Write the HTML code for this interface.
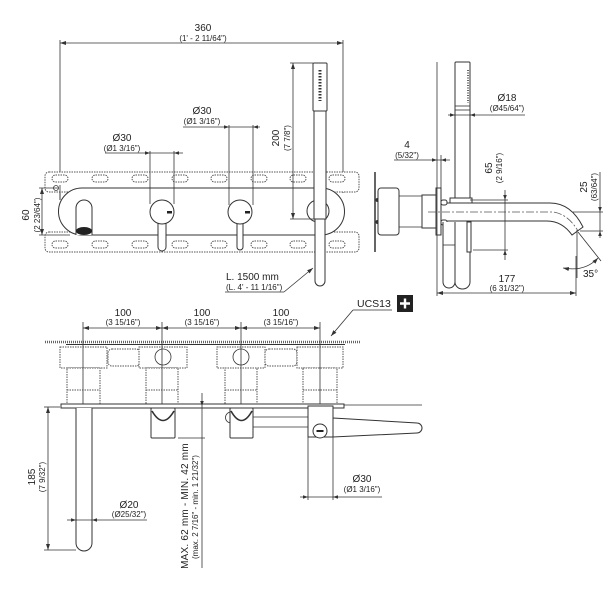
<!DOCTYPE html>
<html><head><meta charset="utf-8"><style>
html,body{margin:0;padding:0;background:#fff;}
svg{display:block;}
text{font-family:"Liberation Sans",Arial,sans-serif;fill:#222;}
.t{font-size:10px;}
.s{font-size:8px;}
.l{stroke:#333;stroke-width:0.8;fill:none;}
.b{stroke:#333;stroke-width:1;fill:#fff;}
.d{stroke:#555;stroke-width:1;fill:#fff;stroke-dasharray:1.5 1;}
</style></head><body>
<svg width="613" height="591" viewBox="0 0 613 591" xmlns="http://www.w3.org/2000/svg">
<defs>
<marker id="a" viewBox="0 0 6 4" refX="6" refY="2" markerWidth="6" markerHeight="4" orient="auto-start-reverse" markerUnits="userSpaceOnUse"><path d="M0,0 L6,2 L0,4 z" fill="#333"/></marker>
</defs>

<!-- ============ FRONT VIEW ============ -->
<!-- 360 -->
<line class="l" x1="60" y1="43" x2="343" y2="43" marker-start="url(#a)" marker-end="url(#a)"/>
<line class="l" x1="60" y1="40" x2="60" y2="200"/>
<line class="l" x1="343" y1="40" x2="343" y2="193"/>
<text class="t" x="203" y="31" text-anchor="middle">360</text>
<text class="s" x="203" y="41" text-anchor="middle">(1' - 2 11/64")</text>

<!-- plate strips -->
<rect class="d" x="45" y="172" width="314" height="20" rx="4"/>
<rect class="d" x="45" y="232" width="314" height="20" rx="4"/>
<g class="d">
<rect x="52" y="175" width="16" height="7" rx="3.5"/><rect x="92" y="175" width="16" height="7" rx="3.5"/>
<rect x="132" y="175" width="16" height="7" rx="3.5"/><rect x="172" y="175" width="16" height="7" rx="3.5"/>
<rect x="211" y="175" width="16" height="7" rx="3.5"/><rect x="251" y="175" width="16" height="7" rx="3.5"/>
<rect x="290" y="175" width="16" height="7" rx="3.5"/><rect x="329" y="175" width="16" height="7" rx="3.5"/>
<rect x="52" y="241" width="16" height="7" rx="3.5"/><rect x="92" y="241" width="16" height="7" rx="3.5"/>
<rect x="132" y="241" width="16" height="7" rx="3.5"/><rect x="172" y="241" width="16" height="7" rx="3.5"/>
<rect x="211" y="241" width="16" height="7" rx="3.5"/><rect x="251" y="241" width="16" height="7" rx="3.5"/>
<rect x="290" y="241" width="16" height="7" rx="3.5"/><rect x="329" y="241" width="16" height="7" rx="3.5"/>
</g>
<!-- body -->
<path class="b" d="M82,188 L321,188 A23.5,23.5 0 0 1 321,235 L82,235 A23.5,23.5 0 0 1 82,188 Z"/>
<line class="l" x1="60" y1="185" x2="60" y2="200"/>
<circle class="l" cx="56" cy="188" r="2.5"/>
<!-- spout front -->
<path class="b" d="M76,235 V208 A8,8 0 0 1 92,208 V235"/>
<ellipse cx="84" cy="231" rx="8" ry="4" fill="#222"/>
<!-- lever 1 -->
<path class="b" d="M158,222 V247 A3,3 0 0 0 166,247 V222"/>
<circle class="b" cx="162" cy="212" r="12"/>
<rect x="167" y="211" width="5" height="2.5" fill="#222"/>
<!-- lever 2 -->
<path class="b" d="M237,222 V247 A3,3 0 0 0 243,247 V222"/>
<circle class="b" cx="240" cy="212" r="12"/>
<rect x="245" y="211" width="5" height="2.5" fill="#222"/>

<!-- 60 dim -->
<line class="l" x1="42" y1="188" x2="42" y2="235" marker-start="url(#a)" marker-end="url(#a)"/>
<line class="l" x1="39" y1="188" x2="58" y2="188"/>
<line class="l" x1="39" y1="235" x2="70" y2="235"/>
<text class="t" transform="rotate(-90 29 215)" x="29" y="215" text-anchor="middle">60</text>
<text class="s" transform="rotate(-90 40 215)" x="40" y="215" text-anchor="middle">(2 23/64")</text>

<!-- Ø30 #1 -->
<line class="l" x1="150" y1="151" x2="150" y2="204"/>
<line class="l" x1="174" y1="151" x2="174" y2="204"/>
<line class="l" x1="105" y1="153" x2="183" y2="153"/>
<path d="M150,153 l-5,-1.8 v3.6z M174,153 l5,-1.8 v3.6z" fill="#333"/>
<text class="t" x="122" y="141" text-anchor="middle">Ø30</text>
<text class="s" x="122" y="151" text-anchor="middle">(Ø1 3/16")</text>
<!-- Ø30 #2 -->
<line class="l" x1="229" y1="125" x2="229" y2="205"/>
<line class="l" x1="253" y1="125" x2="253" y2="205"/>
<line class="l" x1="183" y1="127" x2="260" y2="127"/>
<path d="M229,127 l-5,-1.8 v3.6z M253,127 l5,-1.8 v3.6z" fill="#333"/>
<text class="t" x="202" y="114" text-anchor="middle">Ø30</text>
<text class="s" x="202" y="124" text-anchor="middle">(Ø1 3/16")</text>

<!-- handset front -->
<circle class="b" cx="318" cy="211" r="11"/>
<path class="b" d="M315,219 V281 A5,5 0 0 0 325,281 V219 Z"/>
<rect class="b" x="314" y="110" width="12" height="109"/>
<rect class="b" x="313" y="63" width="14" height="48" rx="1"/>
<line x1="320" y1="70" x2="320" y2="101" stroke="#333" stroke-width="3" stroke-dasharray="1.5 1.5"/>
<!-- 200 dim -->
<line class="l" x1="293" y1="63" x2="293" y2="219" marker-start="url(#a)" marker-end="url(#a)"/>
<line class="l" x1="290" y1="63" x2="313" y2="63"/>
<line class="l" x1="290" y1="219" x2="314" y2="219"/>
<text class="t" transform="rotate(-90 279 138)" x="279" y="138" text-anchor="middle">200</text>
<text class="s" transform="rotate(-90 290 138)" x="290" y="138" text-anchor="middle">(7 7/8")</text>
<!-- L. 1500 -->
<text class="t" x="226" y="280">L. 1500 mm</text>
<text class="s" x="226" y="290">(L. 4' - 11 1/16")</text>
<line class="l" x1="225" y1="292" x2="284" y2="292"/>
<line class="l" x1="284" y1="292" x2="313" y2="268" marker-end="url(#a)"/>

<!-- ============ SIDE VIEW ============ -->
<line x1="375" y1="172" x2="375" y2="252" stroke="#333" stroke-width="1.5"/>
<circle cx="377.5" cy="200" r="2" fill="#333"/><circle cx="377.5" cy="222" r="2" fill="#333"/>
<rect class="b" x="378" y="188" width="21" height="47" rx="3"/>
<line class="l" x1="399" y1="196" x2="422" y2="196"/>
<line class="l" x1="399" y1="227" x2="422" y2="227"/>
<rect class="b" x="422" y="195" width="14" height="33"/>
<rect class="b" x="436" y="188" width="5" height="47"/>
<line class="l" x1="437" y1="62" x2="437" y2="296"/>
<!-- 4 dim -->
<line class="l" x1="441" y1="155" x2="441" y2="188"/>
<line class="l" x1="394" y1="160" x2="450" y2="160"/>
<path d="M437,160 l-5,-1.8 v3.6z M441,160 l5,-1.8 v3.6z" fill="#333"/>
<text class="t" x="407" y="148" text-anchor="middle">4</text>
<text class="s" x="407" y="158" text-anchor="middle">(5/32")</text>
<!-- handset side -->
<rect class="b" x="455" y="62" width="15" height="141" rx="1"/>
<line class="l" x1="455" y1="106" x2="470" y2="106"/>
<line class="l" x1="455" y1="110" x2="470" y2="110"/>
<line x1="468" y1="70" x2="468" y2="103" stroke="#333" stroke-width="1.5" stroke-dasharray="1 1.5"/>
<rect class="b" x="450" y="198" width="22" height="6"/>
<!-- Ø18 -->
<line class="l" x1="448" y1="115" x2="525" y2="115"/>
<path d="M455,115 l-5,-1.8 v3.6z M470,115 l5,-1.8 v3.6z" fill="#333"/>
<text class="t" x="507" y="101" text-anchor="middle">Ø18</text>
<text class="s" x="507" y="111" text-anchor="middle">(Ø45/64")</text>
<!-- pipe -->
<path class="b" d="M441,203 L550,203 Q571,203 583,227 L572,235 Q562,221 547,221 L441,221 Z"/>
<rect class="b" x="441" y="200" width="6" height="5" rx="2"/>
<rect class="b" x="441" y="220" width="6" height="5" rx="2"/>
<path d="M428,212 L553,212 Q568,214 578,231" fill="none" stroke="#555" stroke-width="0.8" stroke-dasharray="8 2 2 2"/>
<!-- levers side -->
<path class="b" d="M443,222 V282 A6,6 0 0 0 455,282 V222"/>
<line class="l" x1="443" y1="245" x2="455" y2="245"/>
<path class="b" d="M455,222 V282 A7.5,7 0 0 0 470,282 V222"/>
<rect class="b" x="467" y="222" width="4" height="30"/>
<!-- 65 dim -->
<line class="l" x1="470" y1="200" x2="508" y2="200"/>
<line class="l" x1="473" y1="250" x2="508" y2="250"/>
<line class="l" x1="505" y1="190" x2="505" y2="260"/>
<path d="M505,200 l-1.8,-5 h3.6z M505,250 l-1.8,5 h3.6z" fill="#333"/>
<text class="t" transform="rotate(-90 492 168)" x="492" y="168" text-anchor="middle">65</text>
<text class="s" transform="rotate(-90 502 168)" x="502" y="168" text-anchor="middle">(2 9/16")</text>
<!-- 25 dim -->
<line class="l" x1="573" y1="212" x2="603" y2="212"/>
<line class="l" x1="580" y1="231" x2="603" y2="231"/>
<line class="l" x1="600" y1="172" x2="600" y2="238"/>
<path d="M600,212 l-1.8,-5 h3.6z M600,231 l-1.8,5 h3.6z" fill="#333"/>
<text class="t" transform="rotate(-90 587 187)" x="587" y="187" text-anchor="middle">25</text>
<text class="s" transform="rotate(-90 597 187)" x="597" y="187" text-anchor="middle">(63/64")</text>
<!-- 35° -->
<line class="l" x1="577" y1="230" x2="577" y2="278"/>
<line class="l" x1="578" y1="232" x2="601" y2="261"/>
<path class="l" d="M563,268 Q585,272 598,258" marker-start="url(#a)" marker-end="url(#a)"/>
<text class="t" x="583" y="277">35°</text>
<!-- 177 -->
<line class="l" x1="576" y1="256" x2="576" y2="296"/>
<line class="l" x1="437" y1="293" x2="576" y2="293" marker-start="url(#a)" marker-end="url(#a)"/>
<text class="t" x="507" y="282" text-anchor="middle">177</text>
<text class="s" x="507" y="291" text-anchor="middle">(6 31/32")</text>

<!-- UCS13 -->
<text class="t" x="357" y="307" style="font-size:10.5px">UCS13</text>
<line class="l" x1="353" y1="310" x2="392" y2="310"/>
<line class="l" x1="353" y1="310" x2="331" y2="336" marker-end="url(#a)"/>
<rect x="397" y="295" width="16" height="17" fill="#222"/>
<path d="M405,298.5 V308.5 M400,303.5 H410" stroke="#fff" stroke-width="2.4"/>

<!-- ============ PLAN VIEW ============ -->
<!-- 100 dims -->
<line class="l" x1="83" y1="328" x2="162" y2="328" marker-start="url(#a)" marker-end="url(#a)"/>
<line class="l" x1="162" y1="328" x2="241" y2="328" marker-start="url(#a)" marker-end="url(#a)"/>
<line class="l" x1="241" y1="328" x2="320" y2="328" marker-start="url(#a)" marker-end="url(#a)"/>
<text class="t" x="123" y="316" text-anchor="middle">100</text>
<text class="s" x="123" y="325" text-anchor="middle">(3 15/16")</text>
<text class="t" x="202" y="316" text-anchor="middle">100</text>
<text class="s" x="202" y="325" text-anchor="middle">(3 15/16")</text>
<text class="t" x="281" y="316" text-anchor="middle">100</text>
<text class="s" x="281" y="325" text-anchor="middle">(3 15/16")</text>
<!-- wall hatch -->
<line x1="45" y1="342" x2="360" y2="342" stroke="#666" stroke-width="2.5" stroke-dasharray="1 1"/>
<line x1="66" y1="344.5" x2="345" y2="344.5" stroke="#333" stroke-width="1"/>
<!-- boxes -->
<rect class="d" x="60" y="347" width="47" height="21"/>
<rect class="d" x="67" y="368" width="33" height="37"/>
<line class="d" x1="67" y1="390" x2="100" y2="390"/>
<rect class="d" x="108" y="349" width="32" height="17" rx="4"/>
<rect class="d" x="139" y="347" width="48" height="21"/>
<rect class="d" x="146" y="368" width="32" height="37"/>
<line class="d" x1="146" y1="390" x2="178" y2="390"/>
<rect class="d" x="217" y="347" width="48" height="21"/>
<rect class="d" x="225" y="368" width="32" height="37"/>
<line class="d" x1="225" y1="390" x2="257" y2="390"/>
<rect class="d" x="265" y="349" width="32" height="17" rx="4"/>
<rect class="d" x="297" y="347" width="46" height="21"/>
<rect class="d" x="303" y="368" width="34" height="37"/>
<line class="d" x1="303" y1="390" x2="337" y2="390"/>
<circle class="l" cx="163" cy="357" r="8"/>
<circle class="l" cx="241" cy="357" r="8"/>
<!-- center / ext lines -->
<line class="l" x1="83" y1="322" x2="83" y2="406"/>
<line class="l" x1="162" y1="322" x2="162" y2="406"/>
<line class="l" x1="241" y1="322" x2="241" y2="406"/>
<line class="l" x1="320" y1="322" x2="320" y2="406"/>
<!-- plate -->
<rect class="b" x="61" y="404" width="283" height="4"/>
<line class="l" x1="344" y1="405" x2="422" y2="405"/>
<!-- spout plan -->
<path class="b" d="M76,408 V543 A8,8 0 0 0 92,543 V408"/>
<!-- 185 -->
<line class="l" x1="48" y1="407" x2="48" y2="550" marker-start="url(#a)" marker-end="url(#a)"/>
<line class="l" x1="44" y1="407" x2="60" y2="407"/>
<line class="l" x1="44" y1="550" x2="76" y2="550"/>
<text class="t" transform="rotate(-90 35 477)" x="35" y="477" text-anchor="middle">185</text>
<text class="s" transform="rotate(-90 45 477)" x="45" y="477" text-anchor="middle">(7 9/32")</text>
<!-- Ø20 -->
<line class="l" x1="67" y1="520" x2="147" y2="520"/>
<path d="M76,520 l-5,-1.8 v3.6z M92,520 l5,-1.8 v3.6z" fill="#333"/>
<text class="t" x="129" y="508" text-anchor="middle">Ø20</text>
<text class="s" x="129" y="517" text-anchor="middle">(Ø25/32")</text>
<!-- lever 1 plan -->
<rect class="b" x="151" y="408" width="24" height="30" rx="1"/>
<path d="M152,411 Q163,430 174,411" fill="none" stroke="#333" stroke-width="1.6"/>
<!-- MAX dim -->
<line class="l" x1="202" y1="393" x2="202" y2="568"/>
<path d="M202,406 l-1.8,-5 h3.6z" fill="#333"/>
<line class="l" x1="178" y1="438" x2="205" y2="438"/>
<text class="t" transform="rotate(-90 188 506)" x="188" y="506" text-anchor="middle" style="letter-spacing:0.2px">MAX. 62 mm - MIN. 42 mm</text>
<text class="s" transform="rotate(-90 198 507)" x="198" y="507" text-anchor="middle">(max. 2 7/16" - min. 1 21/32")</text>
<!-- lever 2 + handset plan -->
<path class="l" d="M231,412 A5.5,5.5 0 0 0 231,423"/>
<line class="l" x1="253" y1="417" x2="308" y2="417"/>
<line class="l" x1="253" y1="427" x2="308" y2="427"/>
<rect class="b" x="230" y="408" width="23" height="30" rx="1"/>
<path d="M231,411 Q241.5,430 252,411" fill="none" stroke="#333" stroke-width="1.6"/>
<path class="b" d="M333,418 L417,423 A5,5 0 0 1 417,433 L333,437 Z"/>
<rect class="b" x="308" y="406" width="25" height="31"/>
<circle class="b" cx="320" cy="431" r="7"/>
<rect x="316.5" y="430" width="7" height="2" fill="#222"/>
<!-- Ø30 bottom -->
<line class="l" x1="308" y1="437" x2="308" y2="500"/>
<line class="l" x1="333" y1="437" x2="333" y2="500"/>
<line class="l" x1="300" y1="497" x2="382" y2="497"/>
<path d="M308,497 l-5,-1.8 v3.6z M333,497 l5,-1.8 v3.6z" fill="#333"/>
<text class="t" x="362" y="482" text-anchor="middle">Ø30</text>
<text class="s" x="362" y="492" text-anchor="middle">(Ø1 3/16")</text>
</svg>
</body></html>
